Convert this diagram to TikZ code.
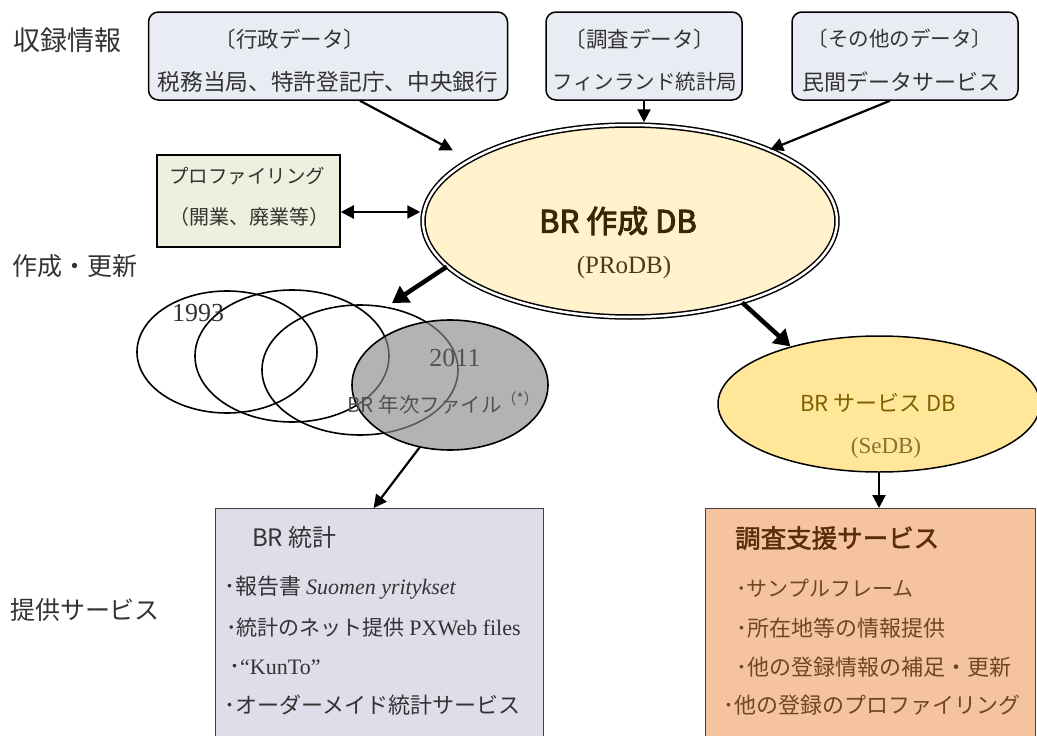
\documentclass[tikz,border=0pt]{standalone}
\usepackage{fontspec}
\setmainfont{Liberation Serif}
\newfontfamily\jp{Noto Sans CJK JP}
\newfontfamily\jpb{Noto Sans CJK JP}[FakeBold=3]
\newfontfamily\jpm{Noto Sans CJK JP}[FakeBold=1.8]
\usetikzlibrary{shapes.geometric,arrows.meta}
\definecolor{srcfill}{RGB}{233,236,242}
\definecolor{proffill}{RGB}{235,241,222}
\definecolor{mainfill}{RGB}{255,242,204}
\definecolor{sefill}{RGB}{255,230,153}
\definecolor{statfill}{RGB}{224,220,234}
\definecolor{svcfill}{RGB}{245,196,158}
\definecolor{maintxt}{RGB}{56,40,4}
\definecolor{mainsub}{RGB}{72,58,28}
\definecolor{setxt}{RGB}{127,96,0}
\definecolor{sesub}{RGB}{140,110,50}
\definecolor{svctitle}{RGB}{90,44,10}
\definecolor{svctxt}{RGB}{112,70,38}
\newcommand\fsz[1]{\fontsize{#1}{#1}\selectfont}
\begin{document}
\begin{tikzpicture}[x=1pt,y=-1pt,
  txt/.style={inner sep=0pt, text=black!80},
  src/.style={draw=black, line width=1.5pt, rounded corners=10pt, fill=srcfill},
  arr/.style={line width=2.2pt, -{Triangle[length=13pt,width=13pt]}},
  darr/.style={line width=2.2pt, {Triangle[length=13pt,width=13pt]}-{Triangle[length=13pt,width=13pt]}},
  tarr/.style={line width=4.5pt, -{Triangle[length=16pt,width=19pt]}},
  ring/.style={ellipse, draw=black, line width=1.6pt, inner sep=0pt},
]
\useasboundingbox (0,0) rectangle (1037,736);

% headings
\node[txt, font=\jp\fsz{27}] (h1) at (67,40) {収録情報};
\node[txt, font=\jp\fsz{25}] (h2) at (75,266) {作成・更新};
\node[txt, font=\jp\fsz{25}] (h3) at (85,610) {提供サービス};

% source boxes
\node[src, minimum width=359pt, minimum height=88pt] (adm) at (328,56) {};
\node[src, minimum width=196pt, minimum height=88pt] (sur) at (644,56) {};
\node[src, minimum width=226pt, minimum height=88pt] (oth) at (905,56) {};
\node[txt, font=\jp\fsz{21.5}] (admT) at (290,39) {〔行政データ〕};
\node[txt, font=\jp\fsz{22.7}] (admB) at (328,82) {税務当局、特許登記庁、中央銀行};
\node[txt, font=\jp\fsz{21.5}] (surT) at (640,39) {〔調査データ〕};
\node[txt, font=\jp\fsz{20.5}] (surB) at (645,82) {フィンランド統計局};
\node[txt, font=\jp\fsz{20.5}] (othT) at (900,39) {〔その他のデータ〕};
\node[txt, font=\jp\fsz{22}] (othB) at (901,82) {民間データサービス};

% profiling box
\node[draw=black, line width=1.5pt, fill=proffill, minimum width=183pt, minimum height=92pt] (prof) at (248.5,201) {};
\node[txt, font=\jp\fsz{19.5}] (profT) at (247,176) {プロファイリング};
\node[txt, font=\jp\fsz{20}] (profB) at (249,217) {（開業、廃業等）};

% main ellipse
\node[ellipse, draw=black, line width=1.5pt, double=white, double distance=2.5pt,
      fill=mainfill, inner sep=0pt, minimum width=414pt, minimum height=192pt] (prodb) at (630,221) {};
\node[txt, text=maintxt, font=\jpb\fsz{31}] (prodbT) at (618,221) {BR 作成 DB};
\node[txt, text=mainsub, font=\rmfamily\fsz{25}] (prodbS) at (624,267) {(PRoDB)};

% yearly files
\node[ring, minimum width=180pt, minimum height=122pt] (y1) at (227,352) {};
\node[ring, minimum width=194pt, minimum height=132pt] (y2) at (292,356) {};
\node[ring, minimum width=196pt, minimum height=130pt] (y3) at (360,370) {};
\node[ring, fill=black!46, fill opacity=0.65, minimum width=196pt, minimum height=130pt] (y4) at (450,385) {};
\node[txt, font=\rmfamily\fsz{26}] (y1T) at (198,313) {1993};
\node[txt, text=black!68, font=\rmfamily\fsz{26}] (y4T) at (455,358) {2011};
\node[txt, text=black!68, font=\jp\fsz{20.5}] (y4B) at (443,403) {BR 年次ファイル\raisebox{0.4em}{\fsz{15}（*）}};

% service DB
\node[ellipse, draw=black, line width=1.5pt, fill=sefill, inner sep=0pt,
      minimum width=322pt, minimum height=136pt] (sedb) at (879,404) {};
\node[txt, text=setxt, font=\jp\fsz{22}] (sedbT) at (878,403) {BR サービス DB};
\node[txt, text=sesub, font=\rmfamily\fsz{23}] (sedbS) at (886,448) {(SeDB)};

% output boxes
\node[draw=black!75, line width=1.2pt, fill=statfill, minimum width=328pt, minimum height=260pt,
      anchor=north west] (stat) at (215,508) {};
\node[draw=black!75, line width=1.2pt, fill=svcfill, minimum width=330pt, minimum height=260pt,
      anchor=north west] (svc) at (705,508) {};

\node[txt, anchor=west, font=\jp\fsz{24}] (statT) at (252,537) {BR 統計};
\node[txt, anchor=west, font=\jp\fsz{22}] (st1) at (224,588) {･報告書 {\rmfamily\itshape Suomen yritykset}};
\node[txt, anchor=west, font=\jp\fsz{21}] (st2) at (226,628) {･統計のネット提供 {\rmfamily\fsz{22}PXWeb files}};
\node[txt, anchor=west, font=\rmfamily\fsz{22}] (st3) at (229,667) {{\jp ･}“KunTo”};
\node[txt, anchor=west, font=\jp\fsz{22}] (st4) at (224,705) {･オーダーメイド統計サービス};

\node[txt, anchor=west, text=svctitle, font=\jpm\fsz{25.5}] (svcT) at (735,538) {調査支援サービス};
\node[txt, anchor=west, text=svctxt, font=\jp\fsz{21}] (sv1) at (736,588) {･サンプルフレーム};
\node[txt, anchor=west, text=svctxt, font=\jp\fsz{22}] (sv2) at (736,628) {･所在地等の情報提供};
\node[txt, anchor=west, text=svctxt, font=\jp\fsz{22}] (sv3) at (736,667) {･他の登録情報の補足・更新};
\node[txt, anchor=west, text=svctxt, font=\jp\fsz{22}] (sv4) at (723,705) {･他の登録のプロファイリング};

% connectors
\coordinate (annTip) at (392,303);
\draw[arr, shorten >=19pt] ([xshift=32pt]adm.south) -- (prodb.159);
\draw[arr, shorten >=2pt] (sur.south) -- (sur.south |- prodb.north);
\draw[arr] ([xshift=-15pt]oth.south) -- (prodb.27);
\draw[darr, shorten >=2pt] ([yshift=-11pt]prof.east) -- ([yshift=-11pt]prof.east -| prodb.west);
\draw[tarr] (prodb.194) -- (annTip);
\draw[tarr] (prodb.-36) -- (sedb.147);
\draw[arr] (y4.244) -- ([xshift=-6pt]stat.north);
\draw[arr] (sedb.south) -- (sedb.south |- svc.north);
\end{tikzpicture}
\end{document}
